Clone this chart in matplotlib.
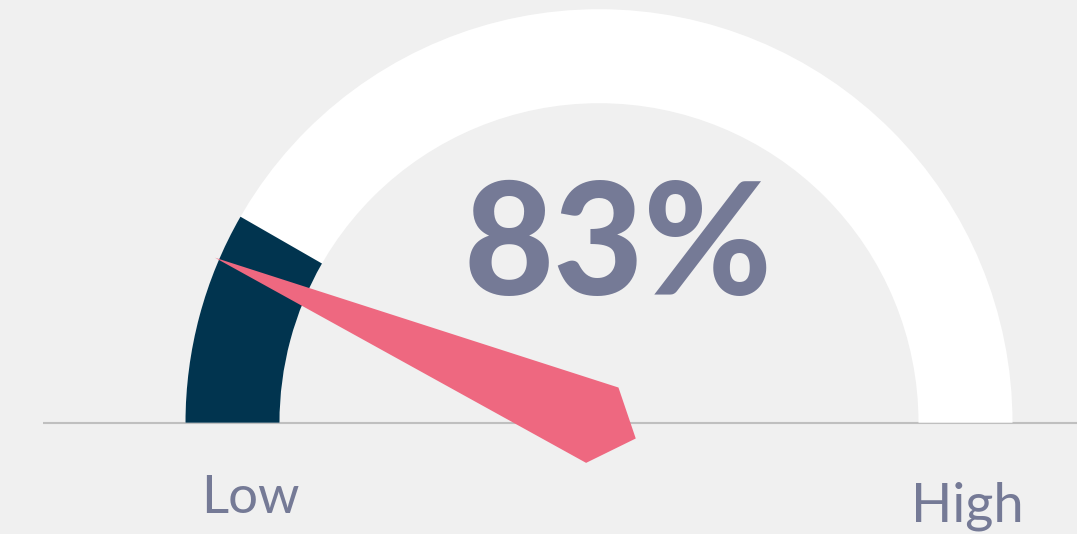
import numpy as np
import matplotlib
matplotlib.use("Agg")
import matplotlib.pyplot as plt
from matplotlib.patches import Wedge, Polygon

# gauge data
value_label = "83%"
low_label = "Low"
high_label = "High"
fill_pct = 16.6              # share of the track painted dark, from the left
needle_deg = 156.75          # needle direction, degrees from the right end

# colours
bg = "#f0f0f0"
ring_col = "#ffffff"
fill_col = "#01344f"
needle_col = "#ee6880"
text_col = "#757a96"
line_col = "#bfbfbf"

W, H = 1077, 534
fig = plt.figure(figsize=(W / 100, H / 100), dpi=100, facecolor=bg)
ax = fig.add_axes([0, 0, 1, 1])
ax.set_xlim(0, W)
ax.set_ylim(0, H)
ax.set_aspect("equal")
ax.axis("off")
ax.set_facecolor(bg)

cx, cy = 599, H - 422.7
r_out, r_in = 413.5, 319.5

# base line
ax.plot([43, W], [cy, cy], color=line_col, lw=1.5, zorder=1, solid_capstyle="butt")

# white track
ax.add_patch(Wedge((cx, cy), r_out, 0, 180, width=r_out - r_in,
                   facecolor=ring_col, edgecolor="none", zorder=2))

# dark filled part
span = 180 * fill_pct / 100
ax.add_patch(Wedge((cx, cy), r_out, 180 - span, 180, width=r_out - r_in,
                   facecolor=fill_col, edgecolor="none", zorder=3))

# needle (kite shape)
a = np.radians(needle_deg)
u = np.array([np.cos(a), np.sin(a)])
p = np.array([-u[1], u[0]])
c = np.array([cx, cy])
pts = [c + 418 * u,
       c - 4 * u - 40 * p,
       c - 40 * u,
       c - 4 * u + 42 * p]
ax.add_patch(Polygon(pts, closed=True, facecolor=needle_col, edgecolor="none", zorder=4))

# texts
ax.text(618, H - 250, value_label, ha="center", va="center", fontsize=112,
        fontweight="black", color=text_col, family=["Lato", "DejaVu Sans"], zorder=5)
ax.text(250, H - 513, low_label, ha="center", va="baseline", fontsize=38,
        color=text_col, family=["Lato", "DejaVu Sans"], zorder=5)
ax.text(967, H - 521.7, high_label, ha="center", va="baseline", fontsize=39,
        color=text_col, family=["Lato", "DejaVu Sans"], zorder=5)

fig.savefig("out.png", dpi=100, facecolor=bg)
